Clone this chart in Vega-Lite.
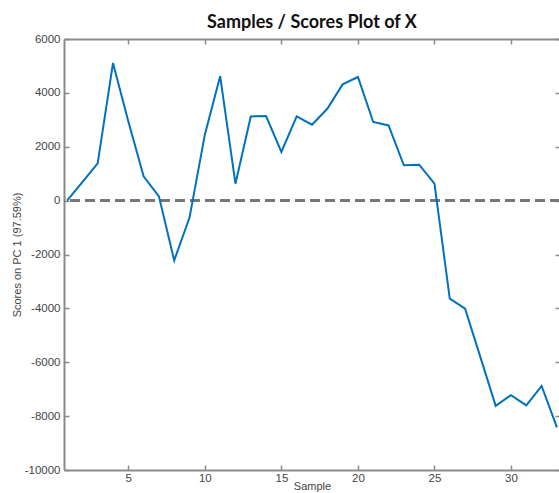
{
  "$schema": "https://vega.github.io/schema/vega-lite/v6.json",
  "autosize": "none",
  "padding": {"left": 64, "top": 39, "right": 0, "bottom": 24},
  "width": 496,
  "height": 431,
  "background": "white",
  "title": {
    "text": "Samples / Scores Plot of X",
    "font": "Lato",
    "fontSize": 18,
    "fontWeight": "bold",
    "color": "#111111",
    "anchor": "middle",
    "offset": 1
  },
  "config": {
    "view": {"stroke": null},
    "axis": {
      "labelFont": "Liberation Sans",
      "labelFontSize": 11.5,
      "labelColor": "#444444",
      "titleFont": "Liberation Sans",
      "titleFontSize": 11,
      "titleFontWeight": "normal",
      "titleColor": "#444444",
      "domainColor": "#8a8a8a",
      "domainWidth": 2,
      "tickColor": "#8a8a8a",
      "tickWidth": 1.5,
      "grid": false,
      "labelExpr": "'' + datum.value"
    }
  },
  "data": {
    "values": [
      {"Sample": 1, "Score": 0},
      {"Sample": 2, "Score": 690},
      {"Sample": 3, "Score": 1380},
      {"Sample": 4, "Score": 5105},
      {"Sample": 5, "Score": 2950},
      {"Sample": 6, "Score": 900},
      {"Sample": 7, "Score": 160},
      {"Sample": 8, "Score": -2220},
      {"Sample": 9, "Score": -630},
      {"Sample": 10, "Score": 2450},
      {"Sample": 11, "Score": 4620},
      {"Sample": 12, "Score": 630},
      {"Sample": 13, "Score": 3125},
      {"Sample": 14, "Score": 3140},
      {"Sample": 15, "Score": 1805},
      {"Sample": 16, "Score": 3125},
      {"Sample": 17, "Score": 2820},
      {"Sample": 18, "Score": 3410},
      {"Sample": 19, "Score": 4315},
      {"Sample": 20, "Score": 4590},
      {"Sample": 21, "Score": 2920},
      {"Sample": 22, "Score": 2790},
      {"Sample": 23, "Score": 1310},
      {"Sample": 24, "Score": 1335},
      {"Sample": 25, "Score": 630},
      {"Sample": 26, "Score": -3640},
      {"Sample": 27, "Score": -4010},
      {"Sample": 28, "Score": -5810},
      {"Sample": 29, "Score": -7620},
      {"Sample": 30, "Score": -7220},
      {"Sample": 31, "Score": -7600},
      {"Sample": 32, "Score": -6880},
      {"Sample": 33, "Score": -8420}
    ]
  },
  "resolve": {"axis": {"x": "independent", "y": "independent"}},
  "layer": [
    {
      "mark": {"type": "rule", "opacity": 0},
      "encoding": {
        "x": {
          "field": "Sample", "type": "quantitative",
          "scale": {"domain": [0.8, 33.2], "nice": false, "zero": false},
          "axis": {"orient": "top", "labels": false, "title": null, "values": [5, 10, 15, 20, 25, 30], "tickSize": -5}
        },
        "y": {
          "field": "Score", "type": "quantitative",
          "scale": {"domain": [-10000, 6000], "nice": false},
          "axis": {"orient": "right", "labels": false, "title": null, "values": [-10000, -8000, -6000, -4000, -2000, 0, 2000, 4000, 6000], "tickSize": -5}
        }
      }
    },
    {
      "mark": {"type": "rule", "color": "#777777", "strokeWidth": 2, "strokeDash": [10, 5]},
      "encoding": {
        "y": {"datum": 0, "type": "quantitative", "axis": null}
      }
    },
    {
      "mark": {"type": "line", "color": "#0072BD", "strokeWidth": 2, "clip": true},
      "encoding": {
        "x": {
          "field": "Sample", "type": "quantitative",
          "axis": {"orient": "bottom", "title": "Sample", "values": [5, 10, 15, 20, 25, 30], "tickSize": -5, "labelPadding": 7, "titlePadding": -3}
        },
        "y": {
          "field": "Score", "type": "quantitative",
          "title": "Scores on PC 1 (97.59%)",
          "axis": {"orient": "left", "values": [-10000, -8000, -6000, -4000, -2000, 0, 2000, 4000, 6000], "tickSize": -5, "labelPadding": 9, "titleX": -42}
        }
      }
    }
  ]
}
